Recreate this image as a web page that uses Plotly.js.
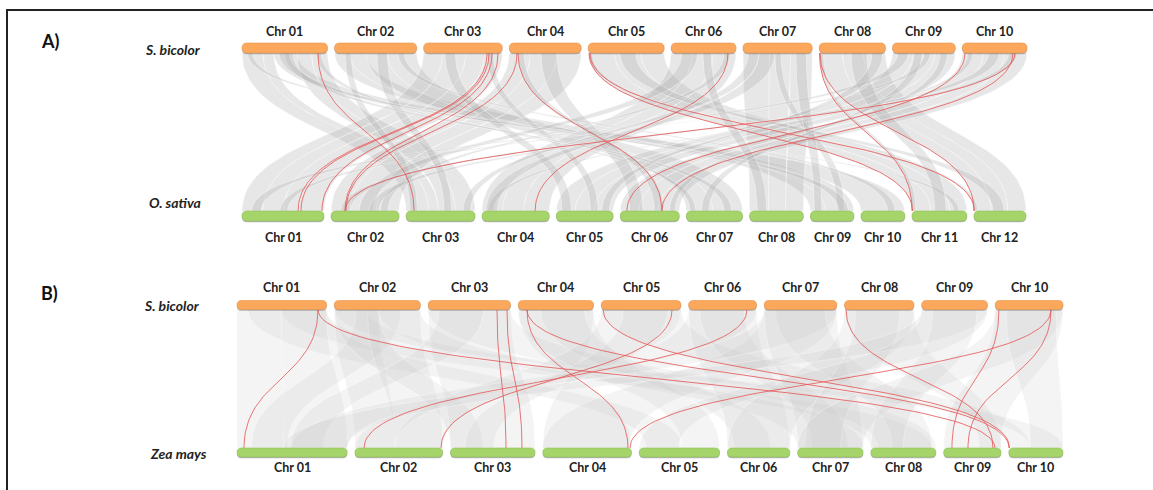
<!DOCTYPE html>
<html><head><meta charset="utf-8">
<script src="https://cdn.plot.ly/plotly-3.0.1.min.js"></script>
<style>html,body{margin:0;padding:0;background:#fff}#chart{width:1153px;height:490px}</style>
</head><body><div id="chart"></div>
<script>
// ================= DATA =================
const sbLabels = ['Chr 01','Chr 02','Chr 03','Chr 04','Chr 05','Chr 06','Chr 07','Chr 08','Chr 09','Chr 10'];
const sbLengths = [80.9, 77.7, 74.4, 68.0, 71.9, 61.3, 65.5, 62.7, 59.4, 61.2];          // Mb
const osLabels = ['Chr 01','Chr 02','Chr 03','Chr 04','Chr 05','Chr 06','Chr 07','Chr 08','Chr 09','Chr 10','Chr 11','Chr 12'];
const osLengths = [43.3, 35.9, 36.4, 35.5, 30.0, 31.2, 29.7, 28.4, 23.0, 23.2, 29.0, 27.5]; // Mb
const zmLabels = ['Chr 01','Chr 02','Chr 03','Chr 04','Chr 05','Chr 06','Chr 07','Chr 08','Chr 09','Chr 10'];
const zmLengths = [307.0, 244.4, 235.7, 247.0, 223.9, 174.0, 182.4, 181.1, 159.8, 151.0];  // Mb

const panelLetters = ['A)', 'B)'];
const topSpecies = ['S. bicolor', 'S. bicolor'];
const bottomSpecies = ['O. sativa', 'Zea mays'];

// highlighted gene pairs: [sorghum chr, Mb, partner chr, Mb]
const redPairsA = [
  [1, 71.9, 3, 4.2],
  [3, 60.0, 1, 29.6],
  [3, 61.9, 1, 31.1],
  [3, 64.7, 1, 42.2],
  [3, 70.4, 2, 7.4],
  [4, 7.3, 2, 7.9],
  [4, 8.2, 6, 22.0],
  [5, 0.8, 11, 0.3],
  [5, 1.7, 12, 0.2],
  [6, 53.7, 4, 28.0],
  [8, 0.2, 11, 0.1],
  [8, 0.8, 12, 0.1],
  [10, 2.6, 6, 3.5],
  [10, 48.0, 6, 22.0],
  [10, 49.9, 2, 7.4]
];
const redPairsB = [
  [1, 73.1, 1, 19.5],
  [1, 73.1, 9, 143.0],
  [3, 62.2, 3, 154.7],
  [3, 71.2, 3, 199.3],
  [4, 7.9, 4, 237.2],
  [4, 7.9, 10, 0.5],
  [5, 1.6, 10, 2.0],
  [5, 63.9, 2, 239.7],
  [6, 52.7, 2, 25.1],
  [8, 1.4, 9, 137.4],
  [10, 3.4, 9, 23.1],
  [10, 50.4, 9, 67.7],
  [10, 50.4, 4, 242.8]
];

// collinear blocks: [sorghum chr, start, end, partner chr, start, end] (Mb)
const grayBlocksA = [
  [1,0,20,3,0,12],[1,20,30,3,12,17],[1,30,52,10,0,23],[1,52,66,3,17,26],[1,66,80.9,3,26,36.4],
  [2,0,14,9,0,8],[2,14,30,9,8,23],[2,30,50,7,0,14],[2,50,77.7,7,14,29.7],
  [3,0,18,1,0,11],[3,18,40,1,11,22],[3,40,58,1,22,30],[3,58,74.4,1,30,43.3],
  [4,0,20,2,0,10],[4,20,45,2,10,24],[4,45,68,2,24,35.9],
  [5,0,25,11,0,10],[5,25,50,11,10,20],[5,50,71.9,11,20,29],
  [6,0,20,4,0,11],[6,20,40,4,11,22],[6,40,61.3,4,22,35.5],
  [7,0,25,8,0,10],[7,25,45,8,10,19],[7,45,65.5,8,19,28.4],
  [8,0,22,12,0,9],[8,22,42,12,9,18],[8,42,62.7,12,18,27.5],
  [9,0,20,5,0,10],[9,20,40,5,10,20],[9,40,59.4,5,20,30],
  [10,0,20,6,0,10],[10,20,40,6,10,20],[10,40,61.2,6,20,31.2],
  [5,0,4,12,0,2],[8,0,4,11,0,2],[3,60,66,5,18,22],[9,30,36,1,20,24],
  [4,8,14,6,18,23],[10,44,52,2,5,10],[6,50,56,2,26,30],[1,70,75,7,2,5],
  [2,10,16,3,2,6],[7,30,36,9,14,18],[1,5,10,11,22,25],[10,5,10,4,3,6],
  [2,60,66,10,14,18],[9,45,52,6,26,29],
  [5,30,45,12,10,16],[8,30,45,11,12,18],[6,10,25,2,15,22],[4,30,45,6,5,12],
  [9,5,15,1,5,10],[3,20,30,5,3,8],[10,25,35,2,20,25],[2,40,50,3,20,24],
  [1,40,48,7,20,24],[7,5,15,3,30,34],[7,50,60,9,2,6],[1,35,45,9,15,20],
  [7,15,30,4,2,8],[8,50,60,5,24,28],[6,30,38,8,4,9],[9,20,28,7,8,12]
];
const grayBlocksB = [
  [1,0,40,1,0,130],[1,40,80.9,8,0,170],[1,10,80.9,5,20,120],[1,40,80.9,1,130,307],
  [2,0,40,2,0,110],[2,40,77.7,7,0,182.4],[2,0,30,10,60,151],[2,20,60,1,40,140],
  [2,30,77.7,2,110,244.4],[2,0,40,3,0,90],
  [3,0,74.4,3,0,235.7],[3,0,74.4,8,20,181.1],[3,10,50,1,150,240],
  [4,0,68,4,247,0],[4,0,68,5,120,223.9],[4,20,60,6,20,120],
  [5,0,71.9,2,110,244.4],[5,0,71.9,10,0,60],[5,20,60,3,40,120],
  [6,0,61.3,2,110,0],[6,0,61.3,6,0,174],[6,10,50,7,40,140],
  [7,0,65.5,4,0,240],[7,0,65.5,1,150,307],[7,10,55,8,60,170],[7,0,65.5,7,0,182.4],
  [8,0,62.7,6,0,174],[8,0,62.7,9,100,159.8],[8,10,50,7,20,120],
  [9,0,59.4,1,130,307],[9,0,59.4,5,0,110],[9,10,50,8,0,90],
  [10,0,61.2,9,0,159.8],[10,0,61.2,7,0,182.4],[10,10,55,10,60,151]
];

// ================= LAYOUT / STYLE =================
const panels = [
  {top:{x0:242,x1:1027,gap:7,y0:43,y1:53,labY:31}, bot:{x0:242,x1:1026,gap:7,y0:211,y1:221,labY:237},
   letter:{x:50,y:41}, topSp:{x:203,y:49}, botSp:{x:203,y:202},
   botLens:osLengths, botLabels:osLabels, red:redPairsA, gray:grayBlocksA,
   grayFill:'rgba(175,175,175,0.30)', grayLine:'rgba(255,255,255,0.55)'},
  {top:{x0:237,x1:1063,gap:7.7,y0:300.5,y1:309.5,labY:287}, bot:{x0:237,x1:1063,gap:7.8,y0:448,y1:457,labY:467},
   letter:{x:49,y:293}, topSp:{x:202,y:305}, botSp:{x:209,y:453},
   botLens:zmLengths, botLabels:zmLabels, red:redPairsB, gray:grayBlocksB,
   grayFill:'rgba(200,200,200,0.20)', grayLine:'rgba(255,255,255,0.45)'}
];

function layoutChrs(lengths, cfg){
  const total = lengths.reduce((a,b)=>a+b,0);
  const scale = (cfg.x1 - cfg.x0 - cfg.gap*(lengths.length-1))/total;
  const starts = []; let x = cfg.x0;
  lengths.forEach(l=>{ starts.push(x); x += l*scale + cfg.gap; });
  return {starts, scale, pos:(chr,mb)=>starts[chr-1] + mb*scale};
}

function bez(xa, ya, xb, yb, n){
  const ym = (ya+yb)/2, xs=[], ys=[];
  for(let i=0;i<=n;i++){
    const t=i/n, u=1-t;
    xs.push(u*u*u*xa + 3*u*u*t*xa + 3*u*t*t*xb + t*t*t*xb);
    ys.push(u*u*u*ya + 3*u*u*t*ym + 3*u*t*t*ym + t*t*t*yb);
  }
  return [xs, ys];
}

function roundBar(x0,x1,y0,y1){
  const r=(y1-y0)/2, ym=(y0+y1)/2;
  return `M${x0+r},${y0} L${x1-r},${y0} Q${x1},${y0} ${x1},${ym} Q${x1},${y1} ${x1-r},${y1} L${x0+r},${y1} Q${x0},${y1} ${x0},${ym} Q${x0},${y0} ${x0+r},${y0} Z`;
}

const traces = [], shapes = [], annotations = [];
const labelFont = {family:'Lato, "Open Sans", sans-serif', size:12.5, color:'#222', weight:700};
const spFont = {family:'Lato, "Open Sans", sans-serif', size:14, color:'#222', weight:700, style:'italic'};

panels.forEach((p, pi)=>{
  const T = layoutChrs(sbLengths, p.top);
  const B = layoutChrs(p.botLens, p.bot);
  const yT = p.top.y1, yB = p.bot.y0;

  // gray collinear ribbons
  p.gray.forEach(g=>{
    const a1=T.pos(g[0],g[1]), a2=T.pos(g[0],g[2]);
    const b1=B.pos(g[3],g[4]), b2=B.pos(g[3],g[5]);
    const L = bez(a1,yT,b1,yB,40), R = bez(b2,yB,a2,yT,40);
    traces.push({type:'scatter', mode:'lines', x:L[0].concat(R[0]), y:L[1].concat(R[1]),
      fill:'toself', fillcolor:p.grayFill, line:{color:p.grayLine, width:0.7}, hoverinfo:'skip'});
  });

  // red highlighted pairs
  p.red.forEach(r=>{
    const c = bez(T.pos(r[0],r[1]), yT, B.pos(r[2],r[3]), yB, 60);
    traces.push({type:'scatter', mode:'lines', x:c[0], y:c[1],
      line:{color:'rgba(229,85,85,0.9)', width:0.9}, hoverinfo:'skip'});
  });

  // chromosome bars
  sbLengths.forEach((l,i)=>{
    const x0=T.starts[i], x1=x0+l*T.scale;
    shapes.push({type:'path', path:roundBar(x0,x1,p.top.y0+1.2,p.top.y1+1.2), xref:'x', yref:'y',
      fillcolor:'rgba(110,110,110,0.5)', line:{width:0}, layer:'above'});
    shapes.push({type:'path', path:roundBar(x0,x1,p.top.y0,p.top.y1), xref:'x', yref:'y',
      fillcolor:'#FBA85C', line:{color:'#E8944A', width:0.6}, layer:'above'});
    annotations.push({x:(x0+x1)/2, y:p.top.labY, xref:'x', yref:'y', text:sbLabels[i], showarrow:false,
      font:labelFont, xanchor:'center', yanchor:'middle'});
  });
  p.botLens.forEach((l,i)=>{
    const x0=B.starts[i], x1=x0+l*B.scale;
    shapes.push({type:'path', path:roundBar(x0,x1,p.bot.y0+1.2,p.bot.y1+1.2), xref:'x', yref:'y',
      fillcolor:'rgba(110,110,110,0.5)', line:{width:0}, layer:'above'});
    shapes.push({type:'path', path:roundBar(x0,x1,p.bot.y0,p.bot.y1), xref:'x', yref:'y',
      fillcolor:'#A5D56A', line:{color:'#8DBE55', width:0.6}, layer:'above'});
    annotations.push({x:(x0+x1)/2, y:p.bot.labY, xref:'x', yref:'y', text:p.botLabels[i], showarrow:false,
      font:labelFont, xanchor:'center', yanchor:'middle'});
  });

  annotations.push({x:p.letter.x, y:p.letter.y, xref:'x', yref:'y', text:panelLetters[pi], showarrow:false,
    font:{family:'Lato, "Open Sans", sans-serif', size:18, color:'#111', weight:700}, xanchor:'center', yanchor:'middle'});
  annotations.push({x:p.topSp.x, y:p.topSp.y, xref:'x', yref:'y', text:topSpecies[pi], showarrow:false,
    font:spFont, xanchor:'right', yanchor:'middle'});
  annotations.push({x:p.botSp.x, y:p.botSp.y, xref:'x', yref:'y', text:bottomSpecies[pi], showarrow:false,
    font:spFont, xanchor:'right', yanchor:'middle'});
});

// frame
shapes.push({type:'line', xref:'x', yref:'y', x0:6, x1:1153, y0:10, y1:10, line:{color:'#222', width:2}, layer:'above'});
shapes.push({type:'line', xref:'x', yref:'y', x0:7, x1:7, y0:9, y1:490, line:{color:'#222', width:2}, layer:'above'});

const layout = {
  width:1153, height:490, margin:{l:0,r:0,t:0,b:0},
  paper_bgcolor:'#fff', plot_bgcolor:'#fff', showlegend:false, hovermode:false,
  xaxis:{range:[0,1153], visible:false, fixedrange:true},
  yaxis:{range:[490,0], visible:false, fixedrange:true},
  shapes, annotations
};
Plotly.newPlot('chart', traces, layout, {staticPlot:true, displayModeBar:false});
</script></body></html>
